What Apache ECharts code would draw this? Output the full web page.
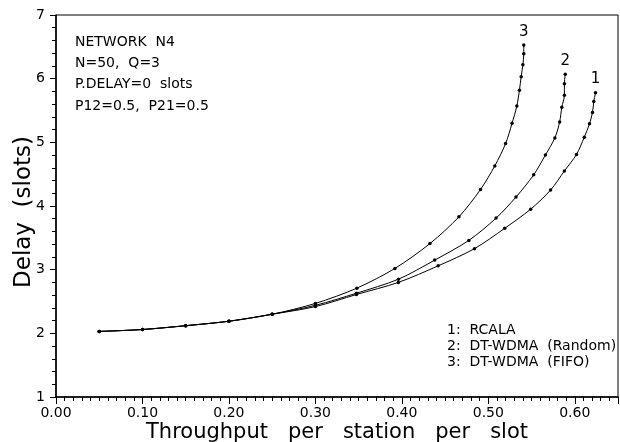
<!DOCTYPE html>
<html>
<head>
<meta charset="utf-8">
<script src="https://cdn.jsdelivr.net/npm/echarts@6/dist/echarts.min.js"></script>
<style>
  html, body { margin: 0; padding: 0; background: #fff; }
  #chart { width: 620px; height: 442px; }
</style>
</head>
<body>
<div id="chart"></div>
<script>
// shared low-load part of all three curves
var commonPts = [[0.05, 2.03], [0.10, 2.06], [0.15, 2.12], [0.20, 2.19], [0.25, 2.30]];

// 1: RCALA
var rcala = [[0.30, 2.42], [0.3475, 2.61], [0.396, 2.80], [0.442, 3.06], [0.484, 3.33],
  [0.519, 3.65], [0.549, 3.95], [0.572, 4.25], [0.588, 4.55], [0.602, 4.81],
  [0.611, 5.08], [0.617, 5.29], [0.6205, 5.47], [0.622, 5.64], [0.624, 5.78]];

// 2: DT-WDMA (Random)
var dtRandom = [[0.30, 2.44], [0.3475, 2.63], [0.396, 2.85], [0.438, 3.15], [0.4775, 3.46],
  [0.509, 3.81], [0.532, 4.14], [0.5525, 4.49], [0.566, 4.80], [0.577, 5.07],
  [0.5825, 5.32], [0.585, 5.55], [0.588, 5.74], [0.588, 5.92], [0.589, 6.07]];

// 3: DT-WDMA (FIFO)
var dtFifo = [[0.30, 2.47], [0.348, 2.71], [0.392, 3.02], [0.4325, 3.41], [0.466, 3.83],
  [0.491, 4.26], [0.5075, 4.63], [0.52, 4.98], [0.5275, 5.30], [0.533, 5.57],
  [0.536, 5.82], [0.538, 6.03], [0.540, 6.22], [0.541, 6.39], [0.541, 6.53]];

var curveNames = ['1', '2', '3'];
var infoLines = ['NETWORK  N4', 'N=50,  Q=3', 'P.DELAY=0  slots', 'P12=0.5,  P21=0.5'];
var legendLines = ['1:  RCALA', '2:  DT-WDMA  (Random)', '3:  DT-WDMA  (FIFO)'];

var font = 'DejaVu Sans';

function mkSeries(name, pts) {
  var all = commonPts.concat(pts);
  var data = all.map(function (p, i) {
    if (i === all.length - 1) {
      // curve number written just above the last point
      return { value: p, label: { show: true, position: 'top', distance: 4, formatter: name,
        color: '#000', fontFamily: font, fontSize: 15 } };
    }
    return p;
  });
  return {
    name: name,
    type: 'line',
    smooth: 0.3,
    data: data,
    symbol: 'circle',
    symbolSize: 3.5,
    itemStyle: { color: '#000' },
    lineStyle: { color: '#000', width: 1 },
    z: 3
  };
}

var chart = echarts.init(document.getElementById('chart'));

var graphics = [];
infoLines.forEach(function (t, i) {
  graphics.push({ type: 'text', left: 75, top: 35 + i * 21.3,
    style: { text: t, fill: '#000', font: '14px "' + font + '"' } });
});
legendLines.forEach(function (t, i) {
  graphics.push({ type: 'text', left: 447, top: 323 + i * 16,
    style: { text: t, fill: '#000', font: '14px "' + font + '"' } });
});

var option = {
  animation: false,
  backgroundColor: '#fff',
  grid: { left: 56, right: 2, top: 15, bottom: 45, outerBoundsMode: 'none',
    show: true, borderColor: '#000', borderWidth: 1 },
  xAxis: {
    type: 'value',
    min: 0, max: 0.65, interval: 0.1,
    name: 'Throughput   per   station   per   slot',
    nameLocation: 'middle', nameGap: 25, nameMoveOverlap: false,
    nameTextStyle: { color: '#000', fontFamily: font, fontSize: 21 },
    axisLine: { lineStyle: { color: '#000', width: 1.5 } },
    axisTick: { show: true, length: 7, lineStyle: { color: '#000' } },
    minorTick: { show: true, splitNumber: 10, length: 4, lineStyle: { color: '#000' } },
    splitLine: { show: false },
    axisLabel: { color: '#000', fontFamily: font, fontSize: 14, margin: 9, showMaxLabel: false,
      formatter: function (v) { return v.toFixed(2); } }
  },
  yAxis: {
    type: 'value',
    min: 1, max: 7, interval: 1,
    name: 'Delay  (slots)',
    nameLocation: 'middle', nameGap: 20, nameMoveOverlap: false,
    nameTextStyle: { color: '#000', fontFamily: font, fontSize: 23, padding: [0, 12, 0, 0] },
    axisLine: { lineStyle: { color: '#000', width: 1.5 } },
    axisTick: { show: true, length: 6, lineStyle: { color: '#000' } },
    minorTick: { show: true, splitNumber: 5, length: 4, lineStyle: { color: '#000' } },
    splitLine: { show: false },
    axisLabel: { color: '#000', fontFamily: font, fontSize: 14, margin: 11 }
  },
  graphic: graphics,
  series: [
    mkSeries(curveNames[0], rcala),
    mkSeries(curveNames[1], dtRandom),
    mkSeries(curveNames[2], dtFifo)
  ]
};

chart.setOption(option);
</script>
</body>
</html>
